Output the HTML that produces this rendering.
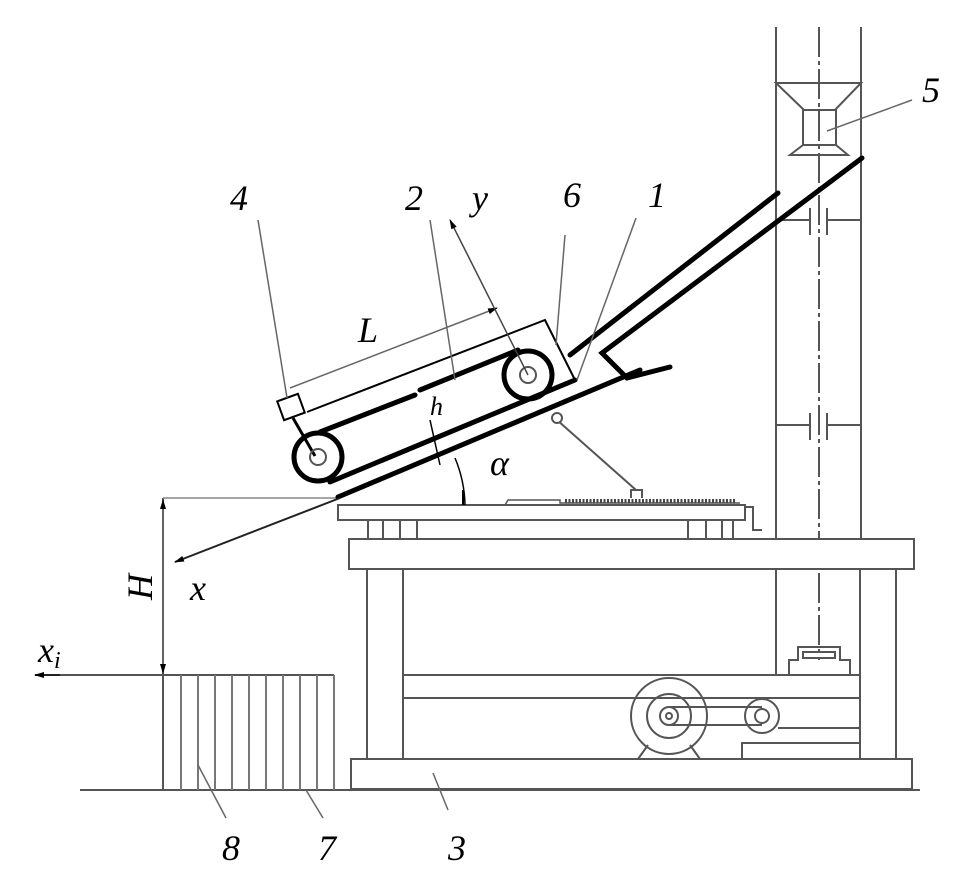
<!DOCTYPE html>
<html><head><meta charset="utf-8"><style>
html,body{margin:0;padding:0;background:#fff;}
svg{display:block;}
text{font-family:"Liberation Serif",serif;font-style:italic;fill:#000;}
</style></head><body>
<svg width="966" height="896" viewBox="0 0 966 896" xmlns="http://www.w3.org/2000/svg">
<defs>
<marker id="ar" markerWidth="10" markerHeight="6" refX="9" refY="3" orient="auto" markerUnits="userSpaceOnUse"><path d="M0,0 L10,3 L0,6 z" fill="#000"/></marker>
</defs>
<g fill="none" stroke="#555" stroke-width="2">
<line x1="80" y1="790" x2="920" y2="790"/>
<line x1="35" y1="675" x2="334" y2="675"/>
<line x1="163" y1="498" x2="163" y2="790"/>
<g stroke="#777">
<line x1="181" y1="675" x2="181" y2="790"/><line x1="198" y1="675" x2="198" y2="790"/>
<line x1="215" y1="675" x2="215" y2="790"/><line x1="232" y1="675" x2="232" y2="790"/>
<line x1="249" y1="675" x2="249" y2="790"/><line x1="266" y1="675" x2="266" y2="790"/>
<line x1="283" y1="675" x2="283" y2="790"/><line x1="300" y1="675" x2="300" y2="790"/>
<line x1="317" y1="675" x2="317" y2="790"/><line x1="334" y1="675" x2="334" y2="790"/>
</g>
<line x1="163" y1="498" x2="340" y2="498" stroke="#888" stroke-width="1.5"/>
<!-- tower -->
<line x1="776" y1="27" x2="776" y2="675"/>
<line x1="819" y1="27" x2="819" y2="660" stroke-dasharray="30,4,4,4"/>
<line x1="861" y1="27" x2="861" y2="569"/>
<path d="M776,83 H861 L835,110 H804 Z"/>
<rect x="803" y="110" width="33" height="35"/>
<path d="M803,145 L790,155 H848 L836,145"/>
<path d="M776,220 H810 M810,208 V235 M827,208 V235 M827,220 H861"/>
<path d="M776,425 H810 M810,413 V440 M827,413 V440 M827,425 H861"/>
<path d="M789,675 V660 H798 V647 H840 V660 H850 V675"/>
<rect x="803" y="652" width="32" height="6"/>
<!-- base frame -->
<rect x="351" y="759" width="561" height="30" fill="#fff"/>
<rect x="349" y="539" width="565" height="30" fill="#fff"/>
<line x1="367" y1="569" x2="367" y2="759"/><line x1="403" y1="569" x2="403" y2="759"/>
<line x1="860" y1="569" x2="860" y2="759"/><line x1="896" y1="569" x2="896" y2="759"/>
<line x1="403" y1="675" x2="860" y2="675"/><line x1="403" y1="698" x2="860" y2="698"/>
<!-- motor -->
<circle cx="669" cy="716" r="38"/>
<circle cx="669" cy="716" r="22"/>
<circle cx="669" cy="716" r="9"/><circle cx="669" cy="716" r="3"/>
<circle cx="762" cy="716" r="17"/><circle cx="762" cy="716" r="7"/>
<line x1="669" y1="707" x2="762" y2="707"/><line x1="669" y1="725" x2="762" y2="725"/>
<path d="M638,759 L648,745 M700,759 L690,745"/>
<path d="M778,728 H860 M742,759 V743 H860"/>
<!-- table -->
<path d="M338,505 H745 V520 H338 Z"/>
<path d="M368,520 V539 M383,520 V539 M400,520 V539 M417,520 V539 M688,520 V539 M706,520 V539 M722,520 V539 M733,520 V539"/>
<path d="M745,507 H753 V530 H762"/>
<path d="M505,505 L508,500 H560 V503 H740" stroke-width="1.5"/>
<line x1="565" y1="501" x2="735" y2="501" stroke="#444" stroke-width="4" stroke-dasharray="2,1.5"/>
<path d="M631,498 V490 H642 V498"/>
<line x1="557" y1="420" x2="636" y2="490"/>
<circle cx="557" cy="418" r="5" fill="#fff"/>
</g>
<g fill="none" stroke="#000" stroke-width="5" stroke-linecap="round">
<line x1="338" y1="497" x2="640" y2="370"/>
<line x1="330" y1="482" x2="575" y2="380"/>
<line x1="320" y1="432" x2="415" y2="395"/>
<line x1="420" y1="390" x2="518" y2="350"/>
<line x1="778" y1="193" x2="570" y2="355"/>
<path d="M862,158 L602,353 L627,378 L670,367"/>
<circle cx="318" cy="457" r="24"/>
<circle cx="528" cy="375" r="24"/>
</g>
<g fill="none" stroke="#000" stroke-width="2">
<path d="M307,412 L545,320 L575,380"/>
<rect x="280" y="397" width="22" height="20" transform="rotate(-20 291 407)"/>
<line x1="293" y1="418" x2="315" y2="456" stroke-width="3"/>
<circle cx="318" cy="457" r="8" stroke="#555"/>
<circle cx="528" cy="375" r="8" stroke="#555"/>
<path d="M465,505 A128,128 0 0 0 455,458" stroke-width="1.5"/>
<line x1="463" y1="505" x2="463" y2="490"/>
<line x1="430" y1="420" x2="440" y2="465" stroke-width="1.5"/>
</g>
<g fill="none" stroke="#666" stroke-width="1.5">
<line x1="290" y1="388" x2="497" y2="308" marker-end="url(#ar)"/>
<line x1="528" y1="375" x2="450" y2="220" marker-end="url(#ar)" stroke="#444"/>
<line x1="340" y1="498" x2="175" y2="562" marker-end="url(#ar)" stroke="#222" stroke-width="2"/>
<line x1="60" y1="675" x2="35" y2="675" marker-end="url(#ar)" stroke="#222" stroke-width="2"/>
<line x1="163" y1="600" x2="163" y2="500" marker-end="url(#ar)"/>
<line x1="163" y1="600" x2="163" y2="673" marker-end="url(#ar)"/>
<line x1="258" y1="220" x2="287" y2="398"/>
<line x1="430" y1="220" x2="455" y2="380"/>
<line x1="565" y1="235" x2="556" y2="345"/>
<line x1="636" y1="218" x2="577" y2="380"/>
<line x1="912" y1="100" x2="827" y2="131"/>
<line x1="198" y1="765" x2="226" y2="818"/>
<line x1="306" y1="790" x2="323" y2="818"/>
<line x1="433" y1="773" x2="448" y2="810"/>
</g>
<g font-size="36">
<text x="230" y="210">4</text>
<text x="405" y="210">2</text>
<text x="472" y="210">y</text>
<text x="563" y="207">6</text>
<text x="648" y="207">1</text>
<text x="922" y="102">5</text>
<text x="358" y="342">L</text>
<text x="430" y="415" font-size="26">h</text>
<text x="490" y="475" font-style="normal">α</text>
<text x="190" y="600">x</text>
<text x="38" y="662">x<tspan font-size="24" dy="6">i</tspan></text>
<text x="222" y="860">8</text>
<text x="318" y="860">7</text>
<text x="448" y="860">3</text>
<text transform="translate(152,600) rotate(-90)">H</text>
</g>
</svg>
</body></html>
